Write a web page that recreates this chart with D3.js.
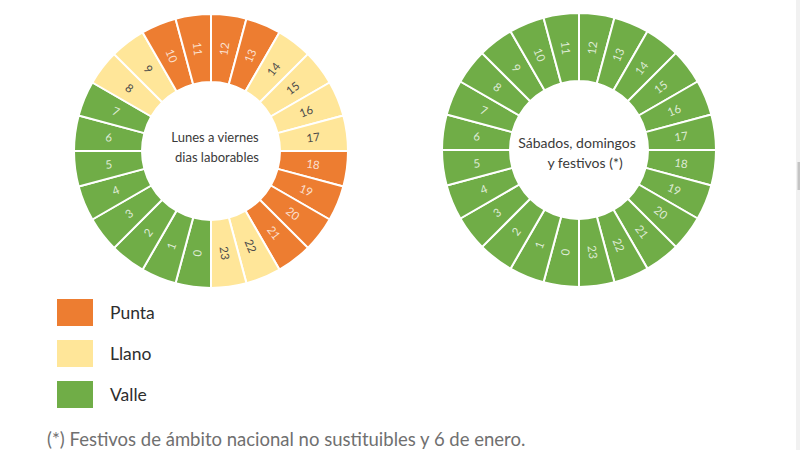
<!DOCTYPE html>
<html><head><meta charset="utf-8">
<script src="https://cdn.jsdelivr.net/npm/d3@7"></script>
<style>html,body{margin:0;padding:0;background:#fff;overflow:hidden}</style>
</head><body>
<svg id="c" width="800" height="450"></svg>
<script>
const hours = [0,1,2,3,4,5,6,7,8,9,10,11,12,13,14,15,16,17,18,19,20,21,22,23];
const weekdayPeriods = ["Valle","Valle","Valle","Valle","Valle","Valle","Valle","Valle",
  "Llano","Llano","Punta","Punta","Punta","Punta","Llano","Llano","Llano","Llano",
  "Punta","Punta","Punta","Punta","Llano","Llano"];
const weekendPeriods = ["Valle","Valle","Valle","Valle","Valle","Valle","Valle","Valle",
  "Valle","Valle","Valle","Valle","Valle","Valle","Valle","Valle","Valle","Valle",
  "Valle","Valle","Valle","Valle","Valle","Valle"];
const periods = ["Punta","Llano","Valle"];
const periodColors = ["#ED7D31","#FFE699","#70AD47"];
const labelColors = ["rgba(255,255,255,0.78)","#4a4a4a","rgba(255,255,255,0.78)"];
const centerTitles = [["Lunes a viernes","dias laborables"],["Sábados, domingos","y festivos (*)"]];
const footnote = "(*) Festivos de ámbito nacional no sustituibles y 6 de enero.";

const svg = d3.select("#c");
const color = d3.scaleOrdinal().domain(periods).range(periodColors);
const lblColor = d3.scaleOrdinal().domain(periods).range(labelColors);

const pie = d3.pie().value(1).sort(null).startAngle(Math.PI).endAngle(3*Math.PI);
const rIn = 69, rOut = 137;
const arc = d3.arc().innerRadius(rIn).outerRadius(rOut);
const labelArc = d3.arc().innerRadius(103).outerRadius(103);

function donut(cx, cy, periodsArr, titles, tsize, ty, tx) {
  const g = svg.append("g").attr("transform", `translate(${cx},${cy})`);
  const data = hours.map((h,i)=>({hour:h, period:periodsArr[i]}));
  const arcs = pie(data);
  g.selectAll("path").data(arcs).join("path")
    .attr("d", arc)
    .attr("fill", d=>color(d.data.period))
    .attr("stroke", "#fff").attr("stroke-width", 2);
  g.selectAll("text.lbl").data(arcs).join("text")
    .attr("class","lbl")
    .attr("transform", d=>{
      const [x,y] = labelArc.centroid(d);
      let a = ((d.startAngle+d.endAngle)/2*180/Math.PI) % 360;
      const rot = a < 180 ? a - 90 : a - 270;
      return `translate(${x},${y}) rotate(${rot})`;
    })
    .attr("text-anchor","middle").attr("dy","0.35em")
    .attr("font-family","Lato, 'Open Sans', sans-serif").attr("font-size", 11.5)
    .attr("fill", d=>lblColor(d.data.period))
    .text(d=>d.data.hour);
  g.append("text").attr("text-anchor","middle")
    .attr("font-family","Lato, 'Open Sans', sans-serif").attr("font-size", tsize)
    .attr("fill","#3a3a3a")
    .selectAll("tspan").data(titles).join("tspan")
    .attr("x", (d,i)=>tx[i]).attr("y",(d,i)=> ty + i*19.5)
    .text(d=>d);
}
donut(211, 151, weekdayPeriods, centerTitles[0], 13, -9, [4, 6]);
donut(579, 150, weekendPeriods, centerTitles[1], 14, -2, [-2, 6]);

// legend
const lg = svg.append("g");
const ly = d3.scalePoint().domain(periods).range([299, 381]);
lg.selectAll("rect").data(periods).join("rect")
  .attr("x", 57).attr("y", d=>ly(d)).attr("width", 36).attr("height", 27)
  .attr("fill", d=>color(d));
lg.selectAll("text").data(periods).join("text")
  .attr("x", 110).attr("y", d=>ly(d)+13.5).attr("dy","0.35em")
  .attr("font-family","Lato, 'Open Sans', sans-serif").attr("font-size", 17.5)
  .attr("fill","#2e2e2e").text(d=>d);

svg.append("text").attr("x", 47).attr("y", 446)
  .attr("font-family","Lato, 'Open Sans', sans-serif").attr("font-size", 18.5)
  .attr("fill","#707070").text(footnote);

// scrollbar
svg.append("rect").attr("x",796).attr("y",0).attr("width",4).attr("height",450).attr("fill","#f1f1f1");
svg.append("rect").attr("x",797.5).attr("y",162).attr("width",2.5).attr("height",28).attr("fill","#c4c4c4");
</script>
</body></html>
